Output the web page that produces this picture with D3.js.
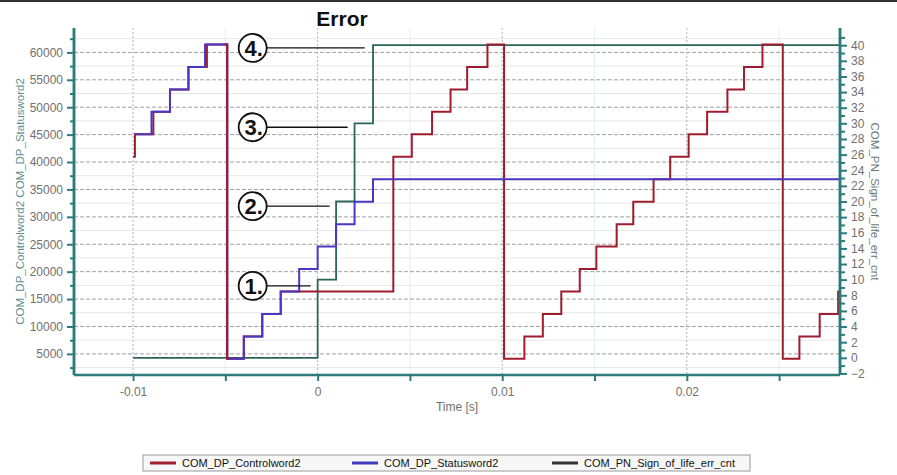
<!DOCTYPE html>
<html>
<head>
<meta charset="utf-8">
<script src="https://cdn.jsdelivr.net/npm/d3@7"></script>
<style>
    body { margin: 0; background: #fff; }
    svg text { font-family: "Liberation Sans", Arial, sans-serif; }
</style>
</head>
<body>
<div id="chart"></div>
<script>
// COM_DP_Controlword2 (left axis)
var ctrlTime = [-0.0100, -0.0099, -0.0089, -0.0080, -0.0070, -0.0060, -0.0049, -0.0040, -0.0030, -0.0020,
    0.0041, 0.0051, 0.0062, 0.0072, 0.0081, 0.0092, 0.0101, 0.0112, 0.0122, 0.0132,
    0.0142, 0.0151, 0.0162, 0.0171, 0.0182, 0.0191, 0.0201, 0.0211, 0.0222, 0.0231,
    0.0241, 0.0252, 0.0261, 0.0272, 0.0282, 0.0283];
var ctrlValue = [40960, 45056, 49152, 53248, 57344, 61440, 4096, 8192, 12288, 16384,
    40960, 45056, 49152, 53248, 57344, 61440, 4096, 8192, 12288, 16384,
    20480, 24576, 28672, 32768, 36864, 40960, 45056, 49152, 53248, 57344,
    61440, 4096, 8192, 12288, 16384, 16384];

// COM_DP_Statusword2 (left axis)
var statTime = [-0.0099, -0.0090, -0.0080, -0.0070, -0.0061, -0.0049, -0.0040, -0.0030, -0.0020, -0.0010,
    0.0000, 0.0010, 0.0020, 0.0030, 0.0283];
var statValue = [45056, 49152, 53248, 57344, 61440, 4096, 8192, 12288, 16384, 20480,
    24576, 28672, 32768, 36864, 36864];

// COM_PN_Sign_of_life_err_cnt (right axis)
var lifeTime = [-0.0100, 0.0000, 0.0010, 0.0020, 0.0030, 0.0283];
var lifeValue = [0, 10, 20, 30, 40, 40];

var xTicks = [-0.01, 0, 0.01, 0.02];
var xTickLabels = ['-0.01', '0', '0.01', '0.02'];
var leftTicks = [5000, 10000, 15000, 20000, 25000, 30000, 35000, 40000, 45000, 50000, 55000, 60000];
var rightTicks = [-2, 0, 2, 4, 6, 8, 10, 12, 14, 16, 18, 20, 22, 24, 26, 28, 30, 32, 34, 36, 38, 40];

var seriesNames = ['COM_DP_Controlword2', 'COM_DP_Statusword2', 'COM_PN_Sign_of_life_err_cnt'];

// callouts 1.-4. (leader end point in time / right-axis units)
var notes = [
    { label: '1.', t: -0.00038, v: 9.2 },
    { label: '2.', t: 0.00065, v: 19.4 },
    { label: '3.', t: 0.00163, v: 29.5 },
    { label: '4.', t: 0.00255, v: 39.65 }
];
var noteCircleT = -0.00352;

var width = 897, height = 475;
var margin = { left: 74, right: 57, top: 28, bottom: 100 };
var axisColor = '#2b7b7b';
var colors = ['#9e1c2e', '#4a36c2', '#2c6457'];

var svg = d3.select('#chart').append('svg')
    .attr('width', width)
    .attr('height', height);

svg.append('rect').attr('x', 0).attr('y', 0).attr('width', width).attr('height', 2).attr('fill', '#333');

var x = d3.scaleLinear().domain([-0.0132, 0.0283]).range([margin.left, width - margin.right]);
var yL = d3.scaleLinear().domain([1150, 64450]).range([height - margin.bottom, margin.top]);
var yR = d3.scaleLinear().domain([-2.2, 42.2]).range([height - margin.bottom, margin.top]);

var x0 = x.range()[0], x1 = x.range()[1];
var yBot = yL.range()[0], yTop = yL.range()[1];

// faint minor grid
var grid = svg.append('g');
d3.range(2500, 64000, 5000).forEach(function (v) {
    grid.append('line').attr('x1', x0).attr('x2', x1).attr('y1', yL(v)).attr('y2', yL(v))
        .attr('stroke', '#e6e6e6').attr('stroke-width', 1);
});
[-0.005, 0.005, 0.015, 0.025].forEach(function (t) {
    grid.append('line').attr('x1', x(t)).attr('x2', x(t)).attr('y1', yTop).attr('y2', yBot)
        .attr('stroke', '#e6eef0').attr('stroke-width', 1);
});
leftTicks.forEach(function (v) {
    grid.append('line').attr('x1', x0).attr('x2', x1).attr('y1', yL(v)).attr('y2', yL(v))
        .attr('stroke', '#a0a0a0').attr('stroke-width', 1).attr('stroke-dasharray', '4,2');
});
xTicks.forEach(function (t) {
    grid.append('line').attr('x1', x(t)).attr('x2', x(t)).attr('y1', yTop).attr('y2', yBot)
        .attr('stroke', '#b0b8b8').attr('stroke-width', 1).attr('stroke-dasharray', '2,2');
});

// series
function pts(ts, vs) {
    return ts.map(function (t, i) { return [t, vs[i]]; });
}
function stepLine(scaleY) {
    return d3.line()
        .x(function (d) { return x(d[0]); })
        .y(function (d) { return scaleY(d[1]); })
        .curve(d3.curveStepAfter);
}

// the controlword drop at about -0.0049 s sits on top of the statusword in the picture
svg.append('clipPath').attr('id', 'dropClip')
    .append('rect')
    .attr('x', x(-0.0049) - 2).attr('y', yTop).attr('width', 4).attr('height', yBot - yTop);

svg.append('path').datum(pts(lifeTime, lifeValue))
    .attr('d', stepLine(yR)).attr('fill', 'none')
    .attr('stroke', colors[2]).attr('stroke-width', 1.8);
svg.append('path').datum(pts(ctrlTime, ctrlValue))
    .attr('d', stepLine(yL)).attr('fill', 'none')
    .attr('stroke', colors[0]).attr('stroke-width', 2);
svg.append('path').datum(pts(statTime, statValue))
    .attr('d', stepLine(yL)).attr('fill', 'none')
    .attr('stroke', colors[1]).attr('stroke-width', 2);
svg.append('path').datum(pts(ctrlTime, ctrlValue))
    .attr('d', stepLine(yL)).attr('fill', 'none')
    .attr('clip-path', 'url(#dropClip)')
    .attr('stroke', colors[0]).attr('stroke-width', 2);

// axes
function styleAxis(g) {
    g.select('.domain').attr('stroke', axisColor).attr('stroke-width', 2.5);
    g.selectAll('.tick line').attr('stroke', axisColor).attr('stroke-width', 2);
    g.selectAll('.tick text').attr('fill', '#707070').style('font-size', '12px')
        .style('font-family', '"Liberation Sans", Arial, sans-serif');
}

var leftMinor = svg.append('g').attr('transform', 'translate(' + x0 + ',0)')
    .call(d3.axisLeft(yL).tickValues(d3.range(2500, 64000, 5000)).tickSize(4).tickFormat(''));
styleAxis(leftMinor);
var leftAxis = svg.append('g').attr('transform', 'translate(' + x0 + ',0)')
    .call(d3.axisLeft(yL).tickValues(leftTicks).tickSize(7).tickPadding(4).tickFormat(d3.format('d')));
styleAxis(leftAxis);
leftMinor.select('.domain').attr('d', 'M0,' + yBot + 'V' + yTop);
leftAxis.select('.domain').attr('d', 'M0,' + yBot + 'V' + yTop);

var rightMinor = svg.append('g').attr('transform', 'translate(' + x1 + ',0)')
    .call(d3.axisRight(yR).tickValues(d3.range(-1, 42, 2)).tickSize(5).tickFormat(''));
styleAxis(rightMinor);
var rightAxis = svg.append('g').attr('transform', 'translate(' + x1 + ',0)')
    .call(d3.axisRight(yR).tickValues(rightTicks).tickSize(7).tickPadding(4).tickFormat(d3.format('d')));
styleAxis(rightAxis);
rightMinor.select('.domain').attr('d', 'M0,' + yBot + 'V' + yTop);
rightAxis.select('.domain').attr('d', 'M0,' + yBot + 'V' + yTop);

var bottomAxis = svg.append('g').attr('transform', 'translate(0,' + yBot + ')')
    .call(d3.axisBottom(x).tickValues([-0.01, -0.005, 0, 0.005, 0.01, 0.015, 0.02, 0.025])
        .tickSize(6).tickPadding(6)
        .tickFormat(function (d) {
            var i = xTicks.findIndex(function (t) { return Math.abs(t - d) < 1e-9; });
            return i >= 0 ? xTickLabels[i] : '';
        }));
styleAxis(bottomAxis);
bottomAxis.select('.domain').attr('d', 'M' + x0 + ',0H' + x1);

// axis titles
svg.append('text')
    .attr('transform', 'translate(24,' + ((yTop + yBot) / 2) + ') rotate(-90)')
    .attr('text-anchor', 'middle')
    .attr('fill', '#5f8e8e')
    .style('font-size', '11.5px')
    .text(seriesNames[0] + ' ' + seriesNames[1]);

svg.append('text')
    .attr('transform', 'translate(871,' + ((yTop + yBot) / 2) + ') rotate(90)')
    .attr('text-anchor', 'middle')
    .attr('fill', '#667a7a')
    .style('font-size', '11.5px')
    .text(seriesNames[2]);

svg.append('text')
    .attr('x', (x0 + x1) / 2).attr('y', 411)
    .attr('text-anchor', 'middle')
    .attr('fill', '#707070')
    .style('font-size', '12px')
    .text('Time [s]');

svg.append('text')
    .attr('x', 342).attr('y', 26)
    .attr('text-anchor', 'middle')
    .attr('fill', '#111')
    .style('font-size', '21px')
    .style('font-weight', '700')
    .text('Error');

// callouts
var note = svg.selectAll('.note').data(notes).enter().append('g').attr('class', 'note');
note.append('line')
    .attr('x1', x(noteCircleT) + 14).attr('x2', function (d) { return x(d.t); })
    .attr('y1', function (d) { return yR(d.v); }).attr('y2', function (d) { return yR(d.v); })
    .attr('stroke', '#111').attr('stroke-width', 1.3);
note.append('circle')
    .attr('cx', x(noteCircleT)).attr('cy', function (d) { return yR(d.v); })
    .attr('r', 14)
    .attr('fill', '#fff').attr('stroke', '#111').attr('stroke-width', 1.8);
note.append('text')
    .attr('x', x(noteCircleT) + 1).attr('y', function (d) { return yR(d.v) + 8; })
    .attr('text-anchor', 'middle')
    .attr('fill', '#111')
    .style('font-size', '22px')
    .style('font-weight', '700')
    .text(function (d) { return d.label; });

// legend
var legend = svg.append('g').attr('transform', 'translate(143,455)');
legend.append('rect').attr('width', 607).attr('height', 16)
    .attr('fill', '#f7f7f7').attr('stroke', '#9a9a9a').attr('stroke-width', 1);
var legendColors = ['#a3202e', '#4038c0', '#333333'];
var legendX = [7, 209, 409];
seriesNames.forEach(function (name, i) {
    legend.append('line')
        .attr('x1', legendX[i]).attr('x2', legendX[i] + 26)
        .attr('y1', 8).attr('y2', 8)
        .attr('stroke', legendColors[i]).attr('stroke-width', 3);
    legend.append('text')
        .attr('x', legendX[i] + 32).attr('y', 12)
        .attr('fill', '#111')
        .style('font-size', '11px')
        .text(name);
});
</script>
</body>
</html>
